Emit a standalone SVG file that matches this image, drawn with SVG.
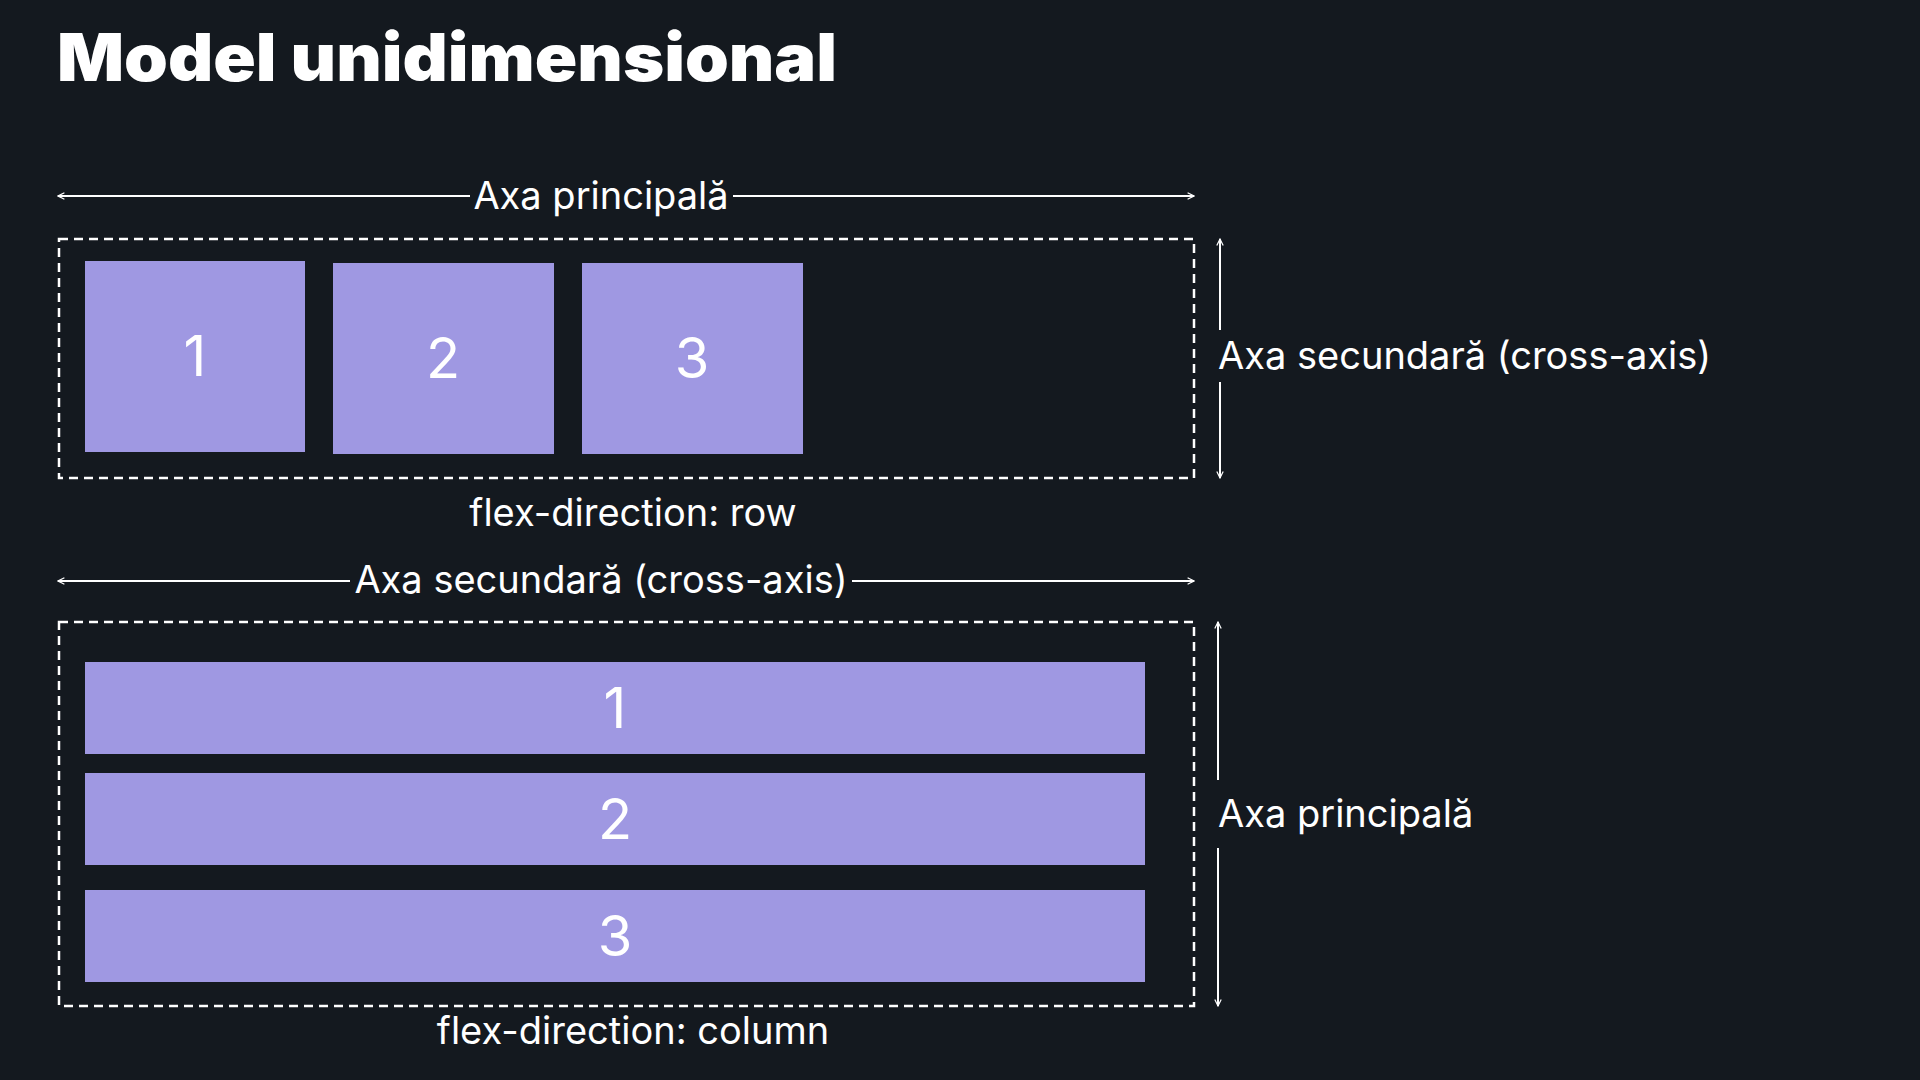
<svg xmlns="http://www.w3.org/2000/svg" width="1920" height="1080" viewBox="0 0 1920 1080">
<defs>
<marker id="ah" viewBox="0 0 10 10" refX="9" refY="5" markerWidth="8" markerHeight="8" orient="auto-start-reverse" markerUnits="userSpaceOnUse"><path d="M1,1 L9,5 L1,9" fill="none" stroke="#fff" stroke-width="1.5"/></marker>
<style>
.t{font-family:Inter,"Noto Sans",sans-serif;fill:#fff;font-size:38px}
.n{font-family:Inter,"Noto Sans",sans-serif;fill:#fff;font-size:56px;text-anchor:middle}
.b{fill:#9f98e2}
.d{fill:none;stroke:#fff;stroke-width:2.5;stroke-dasharray:9 6}
.a{stroke:#fff;stroke-width:2;fill:none}
</style>
</defs>
<rect width="1920" height="1080" fill="#14191f"/>
<text x="57" y="81" font-family="Inter,sans-serif" font-weight="900" font-size="66" fill="#fff" textLength="780" lengthAdjust="spacingAndGlyphs">Model unidimensional</text>
<g id="connectors">
<line class="a" x1="58" y1="196" x2="470" y2="196" marker-start="url(#ah)"/>
<line class="a" x1="733" y1="196" x2="1194" y2="196" marker-end="url(#ah)"/>
<line class="a" x1="1220" y1="239" x2="1220" y2="330" marker-start="url(#ah)"/>
<line class="a" x1="1220" y1="382" x2="1220" y2="478" marker-end="url(#ah)"/>
<line class="a" x1="58" y1="581" x2="350" y2="581" marker-start="url(#ah)"/>
<line class="a" x1="852" y1="581" x2="1194" y2="581" marker-end="url(#ah)"/>
<line class="a" x1="1218" y1="622" x2="1218" y2="780" marker-start="url(#ah)"/>
<line class="a" x1="1218" y1="848" x2="1218" y2="1006" marker-end="url(#ah)"/>
</g>
<text class="t" x="601" y="209" text-anchor="middle">Axa principală</text>
<text class="t" x="1218" y="369">Axa secundară (cross-axis)</text>
<text class="t" x="601" y="593" text-anchor="middle">Axa secundară (cross-axis)</text>
<text class="t" x="1218" y="827">Axa principală</text>
<g id="row">
<rect class="d" x="59" y="239" width="1135" height="239"/>
<g id="r1"><rect class="b" x="85" y="261" width="220" height="191"/><text class="n" x="195" y="376">1</text></g>
<g id="r2"><rect class="b" x="333" y="263" width="221" height="191"/><text class="n" x="443" y="378">2</text></g>
<g id="r3"><rect class="b" x="582" y="263" width="221" height="191"/><text class="n" x="692" y="378">3</text></g>
<text class="t" x="633" y="526" text-anchor="middle">flex-direction: row</text>
</g>
<g id="column">
<rect class="d" x="59" y="622" width="1135" height="384"/>
<g id="c1"><rect class="b" x="85" y="662" width="1060" height="92"/><text class="n" x="615" y="728">1</text></g>
<g id="c2"><rect class="b" x="85" y="773" width="1060" height="92"/><text class="n" x="615" y="839">2</text></g>
<g id="c3"><rect class="b" x="85" y="890" width="1060" height="92"/><text class="n" x="615" y="956">3</text></g>
<text class="t" x="633" y="1044" text-anchor="middle">flex-direction: column</text>
</g>
</svg>
